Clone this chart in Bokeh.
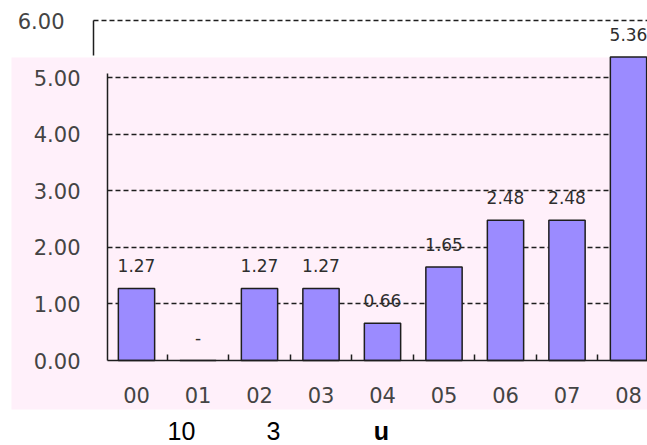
from bokeh.plotting import figure
from bokeh.models import (Range1d, LinearAxis, FixedTicker, BoxAnnotation, Label,
                          ColumnDataSource, Grid, PrintfTickFormatter)
from bokeh.core.properties import value
from bokeh.embed import file_html
from bokeh.resources import INLINE

# ---- data ----
categories = ["00", "01", "02", "03", "04", "05", "06", "07", "08"]
values = [1.27, 0.0, 1.27, 1.27, 0.66, 1.65, 2.48, 2.48, 5.36]
value_labels = ["1.27", "-", "1.27", "1.27", "0.66", "1.65", "2.48", "2.48", "5.36"]
lower_ticks = [0, 1, 2, 3, 4, 5]
upper_ticks = [6]
extra_texts = ["10", "3", "u"]

# ---- layout helpers (page pixel -> data) ----
W, H = 647, 445
X0, SX = 136.0, 61.5   # page x of first category, px per category
Y0, SY = 360.0, 56.6   # page y of value 0, px per unit


def px2x(px):
    return (px - X0) / SX


def px2y(py):
    return (Y0 - py) / SY


p = figure(width=W, height=H, min_border=0,
           x_range=Range1d(px2x(0), px2x(W)),
           y_range=Range1d(px2y(H), px2y(0)),
           x_axis_location=None, y_axis_location=None,
           toolbar_location=None, output_backend="svg",
           background_fill_color="white", border_fill_color="white",
           outline_line_color=None)
p.grid.visible = False

# pink panel
p.add_layout(BoxAnnotation(left=px2x(11), right=px2x(660), top=px2y(57), bottom=px2y(409),
                           fill_color="#FFF0FA", fill_alpha=1.0, line_color=None,
                           level="image"))

GRID_COLOR = "#1e1e1e"
g1 = Grid(dimension=1, ticker=FixedTicker(ticks=lower_ticks[1:]),
          cross_bounds=(px2x(107), px2x(660)),
          grid_line_color=GRID_COLOR, grid_line_dash="5 3", grid_line_width=1.3)
g2 = Grid(dimension=1, ticker=FixedTicker(ticks=upper_ticks),
          cross_bounds=(px2x(93), px2x(660)),
          grid_line_color=GRID_COLOR, grid_line_dash="5 3", grid_line_width=1.3)
p.add_layout(g1)
p.add_layout(g2)

src = ColumnDataSource(dict(x=list(range(len(categories))), top=values, lab=value_labels))
p.vbar(x="x", top="top", width=0.59, source=src, fill_color="#9B8BFF",
       line_color="#1e1e1e", line_width=1.5)
p.text(x="x", y="top", text="lab", source=src, y_offset=-23,
       text_align="center", text_baseline="middle",
       text_font=value("DejaVu Sans"), text_font_size="17px", text_color="#2e2e2e")

label_font = dict(major_label_text_font="DejaVu Sans", major_label_text_font_size="21px",
                  major_label_text_color="#444444")

ya = LinearAxis(fixed_location=px2x(107), ticker=FixedTicker(ticks=lower_ticks),
                bounds=(0, px2y(73)), formatter=PrintfTickFormatter(format="%.2f"),
                major_tick_in=0, major_tick_out=0, minor_tick_in=0, minor_tick_out=0,
                major_label_standoff=27, axis_line_color="#1e1e1e", axis_line_width=1.5,
                **label_font)
p.add_layout(ya, "left")

yb = LinearAxis(fixed_location=px2x(93), ticker=FixedTicker(ticks=upper_ticks),
                bounds=(px2y(55), 6.0), formatter=PrintfTickFormatter(format="%.2f"),
                major_tick_in=0, major_tick_out=0, minor_tick_in=0, minor_tick_out=0,
                major_label_standoff=29, axis_line_color="#1e1e1e", axis_line_width=1.5,
                **label_font)
p.add_layout(yb, "left")

xa = LinearAxis(fixed_location=0,
                ticker=FixedTicker(ticks=list(range(len(categories))),
                                   minor_ticks=[i + 0.5 for i in range(len(categories) - 1)]),
                bounds=(px2x(107), px2x(660)),
                major_label_overrides={i: c for i, c in enumerate(categories)},
                major_tick_in=0, major_tick_out=0, minor_tick_in=6, minor_tick_out=0,
                minor_tick_line_color="#1e1e1e", minor_tick_line_width=1.5,
                major_label_standoff=26, axis_line_color="#1e1e1e", axis_line_width=1.5,
                **label_font)
p.add_layout(xa, "below")

# stray texts under the chart
for txt, px, bold in zip(extra_texts, [181, 273, 381], [False, False, True]):
    p.add_layout(Label(x=px2x(px), y=px2y(430), text=txt, text_align="center",
                       text_baseline="middle", text_font="Liberation Sans",
                       text_font_size="25px", text_color="black",
                       text_font_style="bold" if bold else "normal"))

open("out.html", "w").write(file_html(p, INLINE))
